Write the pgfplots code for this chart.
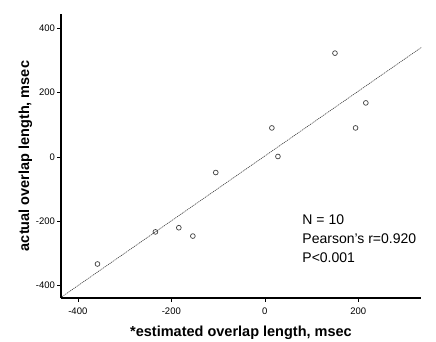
\documentclass[border=0pt]{standalone}
\usepackage{pgfplots}
\pgfplotsset{compat=1.18}
\usepackage{fontspec}
\setmainfont{Liberation Sans}
\begin{document}
\begin{tikzpicture}
\path[use as bounding box] (-61pt,-43pt) rectangle (375pt,298pt);
\begin{axis}[
  scale only axis,
  width=360pt, height=284pt,
  xmin=-436, xmax=334, ymin=-440, ymax=445,
  axis x line=bottom, axis y line=left,
  axis line style={-, line width=1.8pt, black},
  xtick={-400,-200,0,200}, ytick={-400,-200,0,200,400},
  tick align=outside, major tick length=3.5pt,
  tick style={black, line width=0.6pt},
  /pgf/number format/assume math mode=true,
  ticklabel style={font=\fontsize{9.5}{10}\selectfont},
  xticklabel style={yshift=-3pt},
  yticklabel style={xshift=1pt},
  xlabel={*estimated overlap length, msec},
  ylabel={actual overlap length, msec},
  label style={font=\fontsize{14.5}{16}\selectfont\bfseries},
  xlabel style={yshift=-4pt},
  ylabel style={yshift=-3pt},
  clip=false,
]
\addplot[gray!50!black, dash pattern=on 1.2pt off 0.8pt, line width=0.6pt] coordinates {(-434,-436) (335,341)};
\addplot[only marks, mark=o, mark size=2.4pt, gray!50!black, mark options={line width=0.7pt}] coordinates {
(-358,-334) (-234,-234) (-184,-221) (-154,-247) (-105,-49)
(15,90) (28,1) (150,323) (194,90) (216,168)};
\node[anchor=west, align=left, inner sep=0pt, font=\fontsize{14}{19}\selectfont] at (axis cs:80,-256) {N = 10\\Pearson’s r=0.920\\P<0.001};
\end{axis}
\end{tikzpicture}
\end{document}
